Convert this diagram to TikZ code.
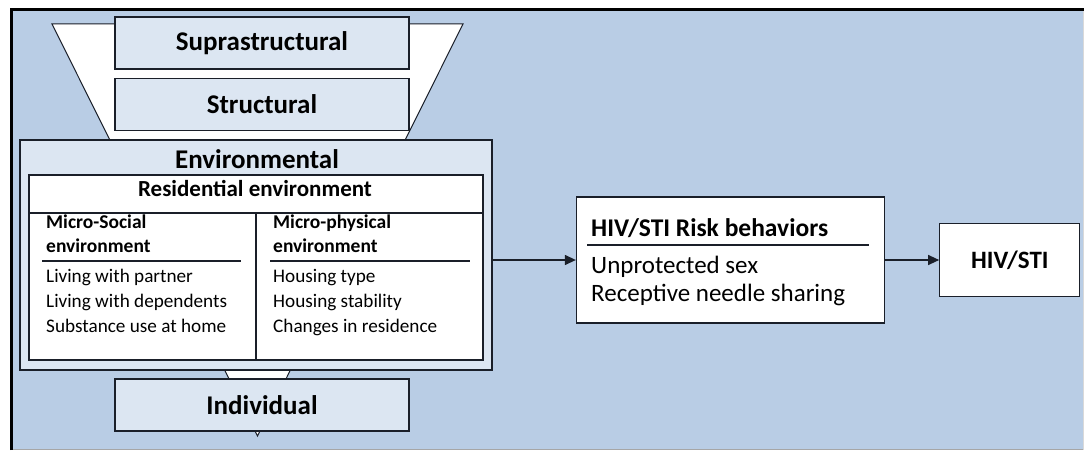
\documentclass[tikz,border=0pt]{standalone}
\usepackage{fontspec}
\setmainfont{Carlito}
\usepackage{tikz}
\usetikzlibrary{positioning,arrows.meta,calc}
\definecolor{bg}{HTML}{B9CDE5}
\definecolor{pale}{HTML}{DCE6F2}
\definecolor{ink}{HTML}{1A1F29}
\tikzset{
  frame/.style={draw=ink, line width=1.3pt},
  layer/.style={frame, fill=pale, minimum width=294pt, minimum height=52pt, inner sep=0pt, font=\bfseries\fontsize{27}{30}\selectfont},
  funnel/.style={draw=ink, fill=white, line width=1pt},
  whitebox/.style={frame, fill=white, inner sep=0pt},
  head/.style={anchor=base, inner sep=0pt, font=\bfseries\fontsize{23}{26}\selectfont},
  sub/.style={anchor=north west, align=left, inner sep=0pt, font=\bfseries\fontsize{19.5}{24}\selectfont},
  item/.style={anchor=base west, inner sep=0pt, font=\fontsize{19.2}{23}\selectfont},
  riskitem/.style={anchor=base west, inner sep=0pt, font=\fontsize{25}{28}\selectfont},
  arr/.style={draw=ink, line width=1.3pt, -{Triangle[length=11pt,width=10pt]}},
}

\begin{document}
\begin{tikzpicture}[x=1pt,y=-1pt]
  \useasboundingbox (0,0) rectangle (1086,452);
  \fill[bg] (12,10) rectangle (1084,450);
  \draw[black!35, line width=1.5pt] (12,449.3) -- (1084,449.3);
  \draw[black!15, line width=1pt] (1083.5,10) -- (1083.5,450);
  \draw[black, line width=3.2pt] (11.6,450) |- (1084,9.6);
  \draw[funnel] (52,24) -- (463,24) -- (257.5,436) -- cycle;
  \node[layer] (supra) at (262,43) {Suprastructural};
  \node[layer] (struct) at (262,104.5) {Structural};
  \node[frame, fill=pale, minimum width=472pt, minimum height=230pt] (env) at (256,255) {};
  \node[head, font=\bfseries\fontsize{27}{30}\selectfont] (envt) at (257,168) {Environmental};
  \node[whitebox, minimum width=454pt, minimum height=185pt] (res) at (256,267.5) {};
  \node[head] (rest) at (255,196) {Residential environment};
  \draw[frame] (29,213) -- (483,213);
  \draw[frame] (256,213) -- (256,360);
  \node[sub] (soc) at (46,215) {Micro-Social\\environment};
  \node[sub] (phys) at (273,215) {Micro-physical\\environment};
  \draw[frame] (42,261) -- (241,261);
  \draw[frame] (270,261) -- (470,261);
  \foreach \t [count=\i] in {Living with partner, Living with dependents, Substance use at home}
    \node[item] (soc\i) at (46,257+25*\i) {\t};
  \foreach \t [count=\i] in {Housing type, Housing stability, Changes in residence}
    \node[item] (phys\i) at (273,257+25*\i) {\t};
  \node[layer] (indiv) at (262,405) {Individual};
  \node[whitebox, minimum width=308pt, minimum height=126pt] (risk) at (730.5,260) {};
  \node[riskitem, font=\bfseries\fontsize{25.5}{28}\selectfont] (rhead) at (591,236) {HIV/STI Risk behaviors};
  \draw[frame] (587,245) -- (869,245);
  \node[riskitem] (r1) at (591,273) {Unprotected sex};
  \node[riskitem] (r2) at (591,301) {Receptive needle sharing};
  \node[whitebox, minimum width=140pt, minimum height=73pt, right=54pt of risk, font=\bfseries\fontsize{25}{30}\selectfont] (hiv) {HIV/STI};
  \draw[arr] (env.east |- risk.west) -- (risk.west);
  \draw[arr] (risk.east) -- (hiv.west);
\end{tikzpicture}
\end{document}
